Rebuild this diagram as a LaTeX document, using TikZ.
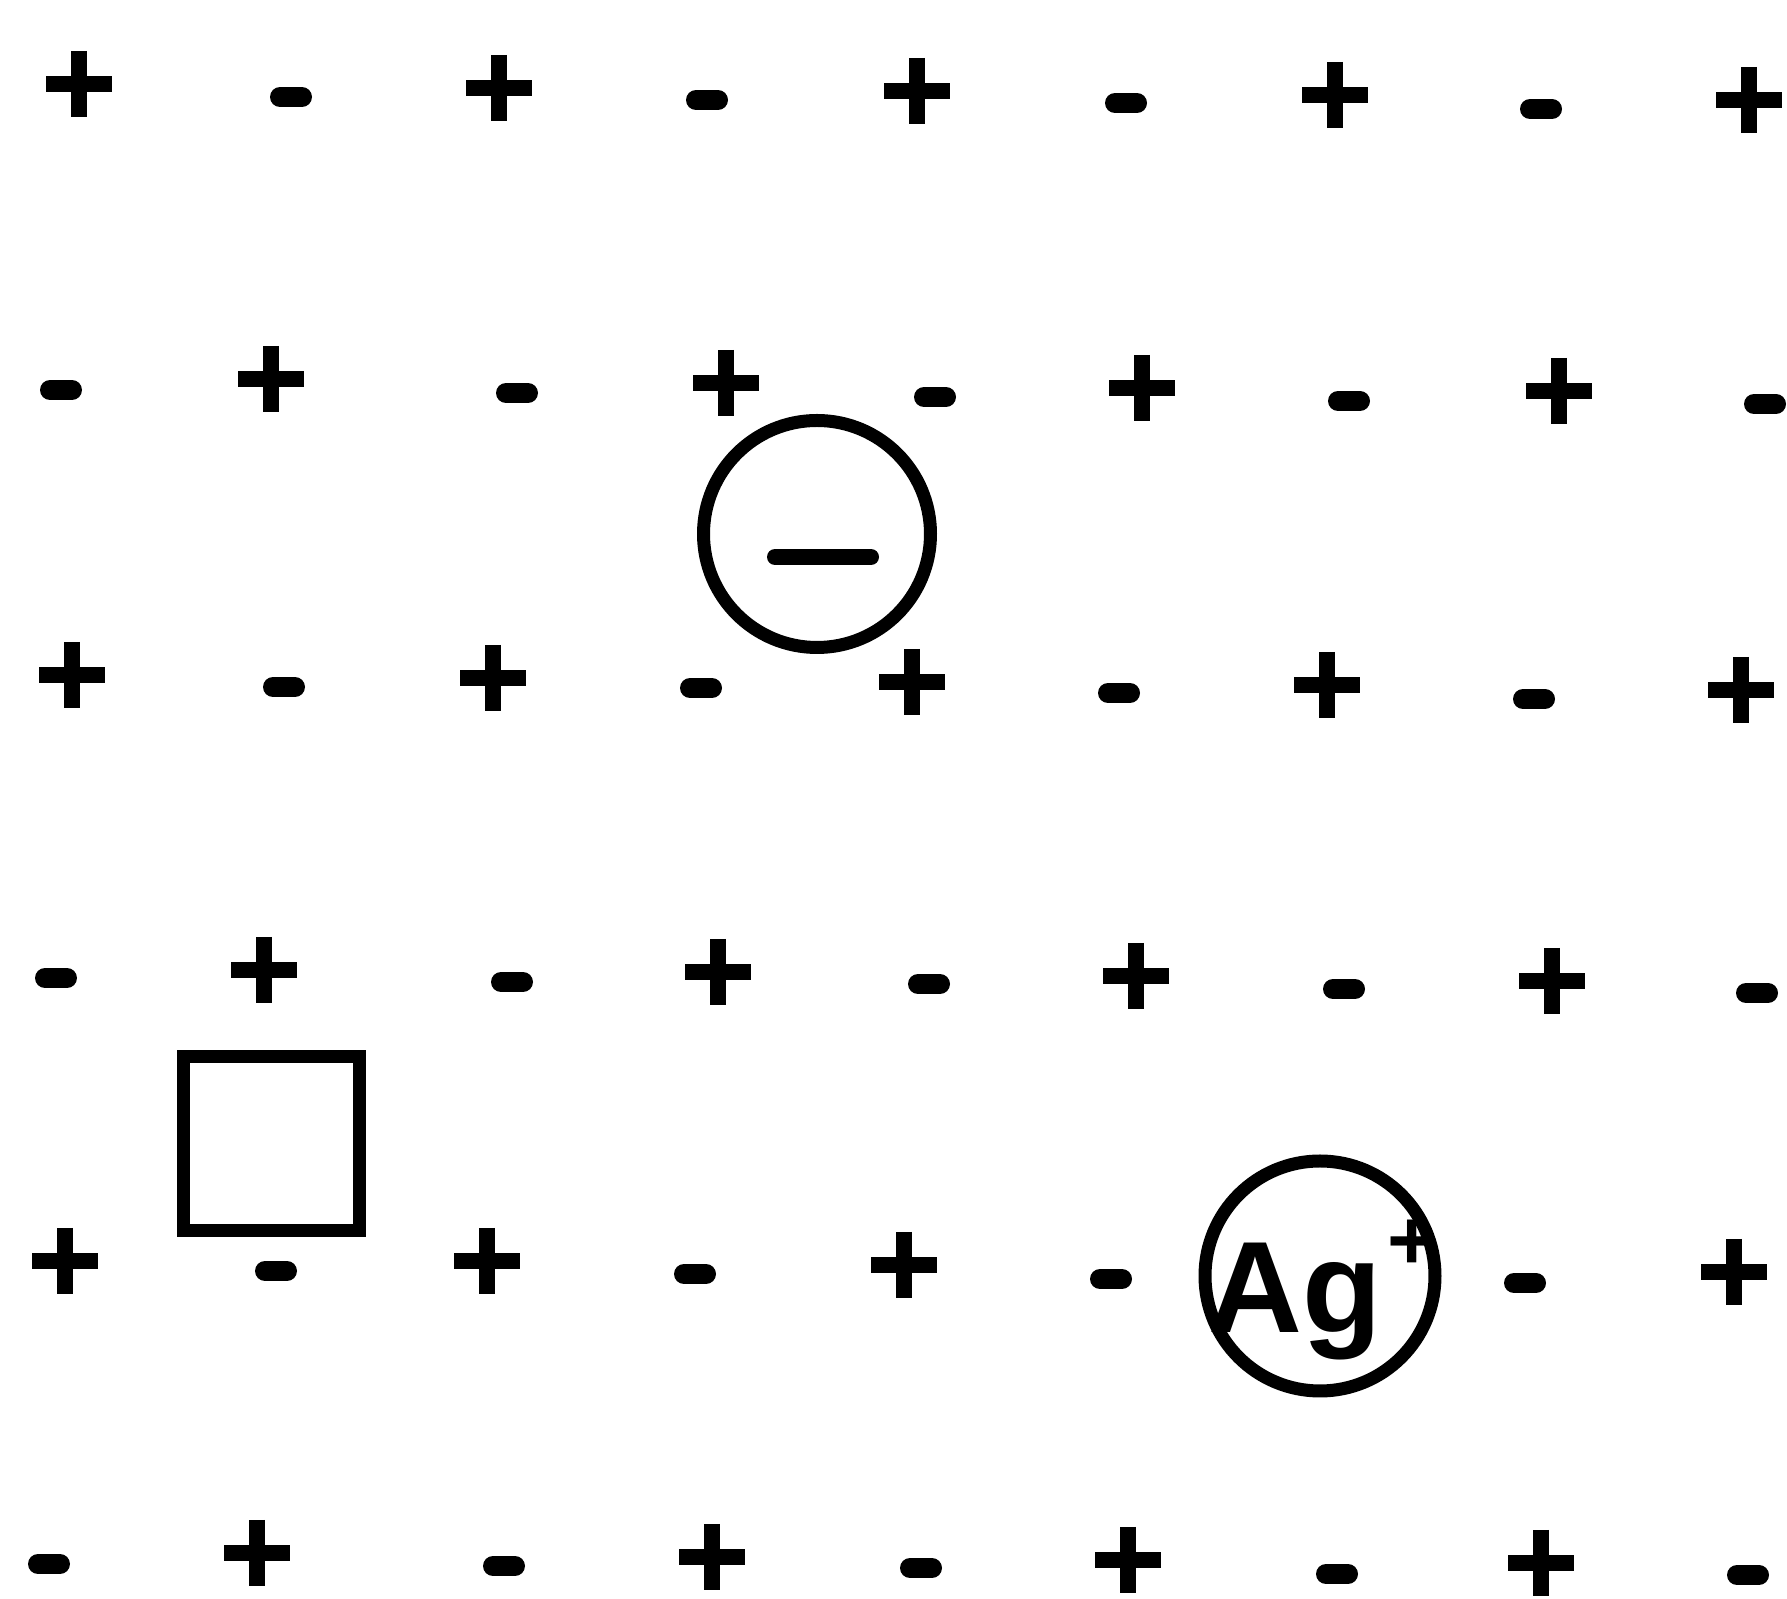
\documentclass[tikz,border=0pt]{standalone}
\usepackage{fontspec}
\setmainfont{Liberation Sans}
\begin{document}
\begin{tikzpicture}[
    x=0.1mm, y=-0.1mm,
    every node/.style={inner sep=0pt},
    cation/.style={line width=1.6mm},
    anion/.style={line width=2mm, line cap=round},
    ring/.style={circle, draw, line width=1.3mm, inner sep=0pt},
  ]
  \useasboundingbox (0,0) rectangle (1787,1599);

  % positive lattice ions
  \foreach \px/\py in {79/84, 499/88, 917/91, 1335/95, 1749/100,
      271/379, 726/383, 1142/388, 1559/391,
      72/675, 493/678, 912/682, 1327/685, 1741/690,
      264/970, 718/972, 1136/976, 1552/981,
      65/1261, 487/1261, 904/1265, 1734/1272,
      257/1553, 712/1557, 1128/1560, 1541/1563}
    \draw[cation] (\px-33,\py) -- (\px+33,\py) (\px,\py-33) -- (\px,\py+33);

  % negative lattice ions
  \foreach \px/\py in {291/97, 707/100, 1126/103, 1541/109,
      61/390, 517/393, 935/397, 1349/401, 1765/404,
      284/687, 701/688, 1119/693, 1534/699,
      56/978, 512/982, 929/984, 1344/989, 1757/993,
      276/1271, 695/1274, 1111/1279, 1525/1283,
      49/1564, 504/1566, 921/1568, 1337/1574, 1748/1575}
    \draw[anion] (\px-11,\py) -- (\px+11,\py);

  % interstitial anion
  \node[ring, minimum size=22.7mm] (extra) at (817,534) {};
  \draw[line width=1.6mm, line cap=round] (775,557) -- (871,557);

  % vacancy
  \node[draw, line width=1.3mm, minimum width=17.6mm, minimum height=17.4mm] (hole) at (271,1144) {};

  % silver ion
  \node[ring, minimum size=23mm] (silver) at (1320,1276) {};
  \node[anchor=base west, font=\fontsize{37}{37}\selectfont\bfseries] (agtext) at (1208,1333) {Ag};
  \node[font=\fontsize{24}{24}\selectfont\bfseries] (agplus) at (1412,1245) {+};
\end{tikzpicture}
\end{document}
